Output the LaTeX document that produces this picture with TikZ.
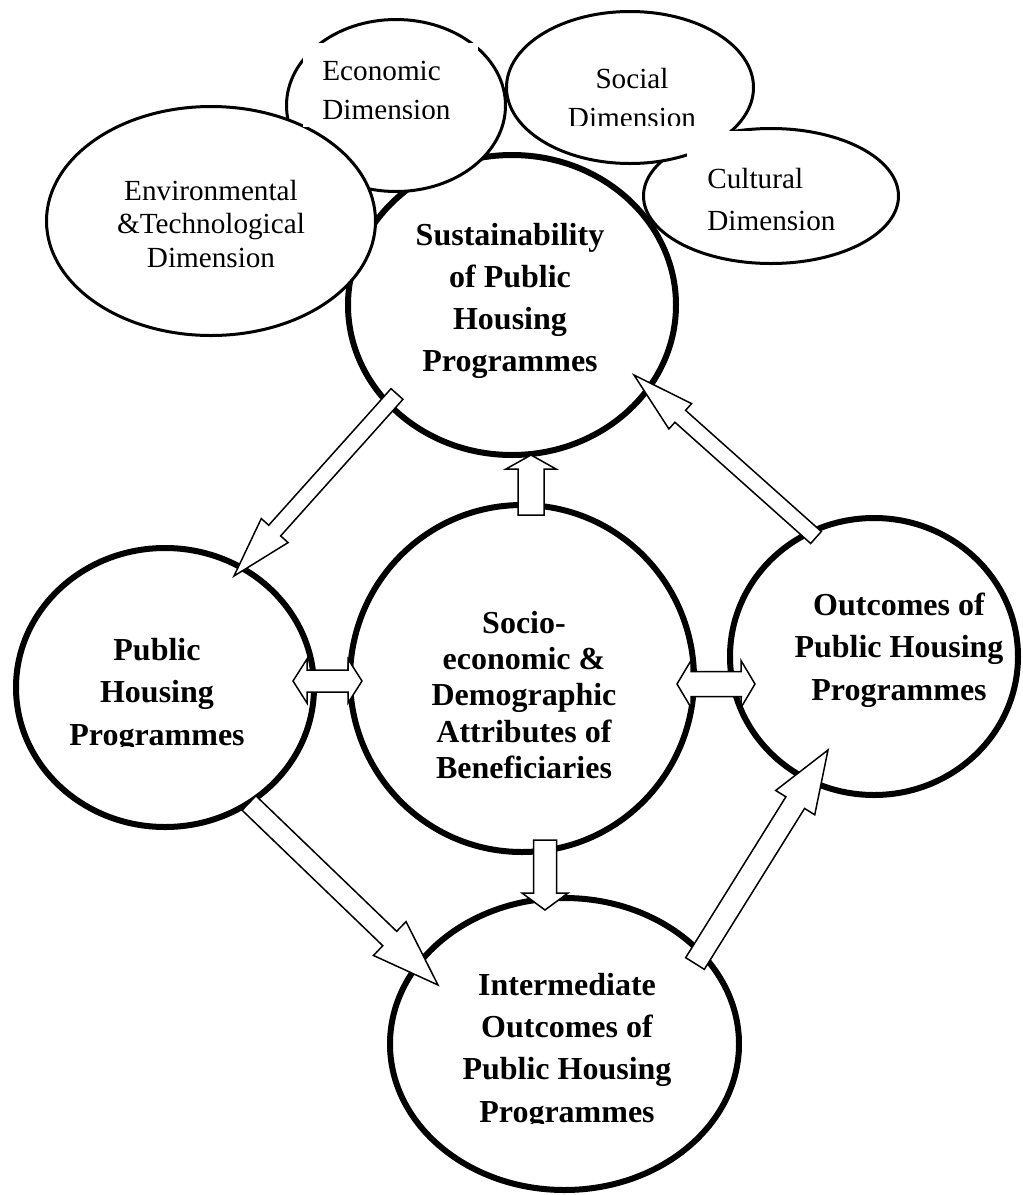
\documentclass[tikz,border=0pt]{standalone}
\usepackage{fontspec}
\setmainfont{Liberation Serif}
\usetikzlibrary{shapes.geometric,calc}
\newcommand\tblock[1]{\begin{tabular}[t]{@{}c@{}}#1\end{tabular}}
\newcommand\tblockl[1]{\begin{tabular}[t]{@{}l@{}}#1\end{tabular}}
\tikzset{
  ring/.style 2 args={ellipse, draw, fill=white, line width=3pt, inner sep=0pt, outer sep=0pt, minimum width=#1, minimum height=#2},
  dimring/.style 2 args={ellipse, draw, fill=white, line width=1.5pt, inner sep=0pt, outer sep=0pt, minimum width=#1, minimum height=#2},
  btxt/.style={anchor=base, inner sep=0pt, font=\fontsize{16}{#1}\selectfont\bfseries},
  rtxt/.style={anchor=base, inner sep=0pt, font=\fontsize{14.6}{#1}\selectfont},
  blk/.style={draw=black, fill=white, line width=0.75pt, line join=miter},
}
% block arrow: tail, tip, half shaft, half head, head length
\newcommand\blockarrow[5]{%
  \coordinate (bac) at ($(#2)!#5!(#1)$);
  \draw[blk] ($(#1)!#3!90:(#2)$) -- ($(bac)!#3!90:(#2)$) -- ($(bac)!#4!90:(#2)$) -- (#2)
    -- ($(bac)!#4!-90:(#2)$) -- ($(bac)!#3!-90:(#2)$) -- ($(#1)!#3!-90:(#2)$) -- cycle;
}
% double block arrow: tip A, tip B, half shaft, half head, head length
\newcommand\dblarrow[5]{%
  \coordinate (dca) at ($(#1)!#5!(#2)$);
  \coordinate (dcb) at ($(#2)!#5!(#1)$);
  \draw[blk] (#1) -- ($(dca)!#4!90:(#2)$) -- ($(dca)!#3!90:(#2)$) -- ($(dcb)!#3!-90:(#1)$)
    -- ($(dcb)!#4!-90:(#1)$) -- (#2) -- ($(dcb)!#4!90:(#1)$) -- ($(dcb)!#3!90:(#1)$)
    -- ($(dca)!#3!-90:(#2)$) -- ($(dca)!#4!-90:(#2)$) -- cycle;
}
\begin{document}
\begin{tikzpicture}[x=0.5pt,y=-0.5pt]
\fill[white] (0,0) rectangle (1023,1195);
\useasboundingbox (0,0) rectangle (1023,1195);

% top group of ellipses
\node[dimring={127.5pt}{67.5pt}] (cul) at (771,196) {};
\node[ring={164pt}{150pt}] (sust) at (512,305) {};
\node[dimring={123.5pt}{76pt}] (soc) at (630,87.5) {};
\node[dimring={109.5pt}{86pt}] (eco) at (396,105.5) {};
\node[dimring={164.5pt}{114.5pt}] (env) at (211,221) {};

% text boxes of the dimensions (white, they hide parts of outlines)
\fill[white] (303,43) rectangle (478,127);
\fill[white] (687,131) rectangle (760,160);

\begin{scope}
  \clip (303,43) rectangle (478,118);
  \node[rtxt=19.75pt, anchor=base west] (ecoT) at (322,80) {\tblockl{Economic\\Dimension}};
\end{scope}
\begin{scope}
  \clip (540,40) rectangle (720,125);
  \node[rtxt=19.75pt] (socT) at (632,88) {\tblock{Social\\Dimension}};
\end{scope}
\node[rtxt=21pt, anchor=base west] (culT) at (707,188) {\tblockl{Cultural\\Dimension}};
\node[rtxt=16.75pt] (envT) at (211,200) {\tblock{Environmental\\\&Technological\\Dimension}};
\node[btxt=21.15pt] (sustT) at (510,245) {\tblock{Sustainability\\of Public\\Housing\\Programmes}};

% main circles
\node[ring={172pt}{173.5pt}] (socio) at (522,678.5) {};
\node[ring={149pt}{139.5pt}] (php) at (165,687.5) {};
\node[ring={144pt}{138.5pt}] (out) at (874,656.5) {};
\node[ring={174.5pt}{146pt}] (inter) at (564.5,1044) {};

\node[btxt=18.2pt] (socioT) at (524,633) {\tblock{Socio-\\economic \&\\Demographic\\Attributes of\\Beneficiaries}};
\begin{scope}
  \clip (40,600) rectangle (290,746);
  \node[btxt=21.25pt] (phpT) at (157,660) {\tblock{Public\\Housing\\Programmes}};
\end{scope}
\node[btxt=21.25pt] (outT) at (899,615) {\tblock{Outcomes of\\Public Housing\\Programmes}};
\begin{scope}
  \clip (430,950) rectangle (710,1123);
  \node[btxt=21.2pt] (interT) at (567,995) {\tblock{Intermediate\\Outcomes of\\Public Housing\\Programmes}};
\end{scope}

% arrow end points
\coordinate (upTail) at (531,515);
\coordinate (upTip) at (531,455);
\coordinate (dnTail) at (545,840);
\coordinate (dnTip) at (545,910);
\coordinate (lA) at (293,681);
\coordinate (lB) at (362,681);
\coordinate (rA) at (677,684);
\coordinate (rB) at (755,684);
\coordinate (ulTail) at (397,394);
\coordinate (ulTip) at (234,576);
\coordinate (urTail) at (816,537.5);
\coordinate (urTip) at (634,375);
\coordinate (llTail) at (249,803);
\coordinate (llTip) at (438,985);
\coordinate (lrTail) at (695,963.5);
\coordinate (lrTip) at (828,750);

% arrows
\blockarrow{upTail}{upTip}{6.5pt}{12.5pt}{7pt}
\blockarrow{dnTail}{dnTip}{5.75pt}{11.5pt}{8.5pt}
\dblarrow{lA}{lB}{5.5pt}{11pt}{7pt}
\dblarrow{rA}{rB}{6.25pt}{11.75pt}{7pt}
\blockarrow{ulTail}{ulTip}{4pt}{9pt}{30.5pt}
\blockarrow{urTail}{urTip}{4pt}{8.5pt}{31pt}
\blockarrow{llTail}{llTip}{5pt}{11.75pt}{33.5pt}
\blockarrow{lrTail}{lrTip}{5.5pt}{11.5pt}{31pt}
\end{tikzpicture}
\end{document}
